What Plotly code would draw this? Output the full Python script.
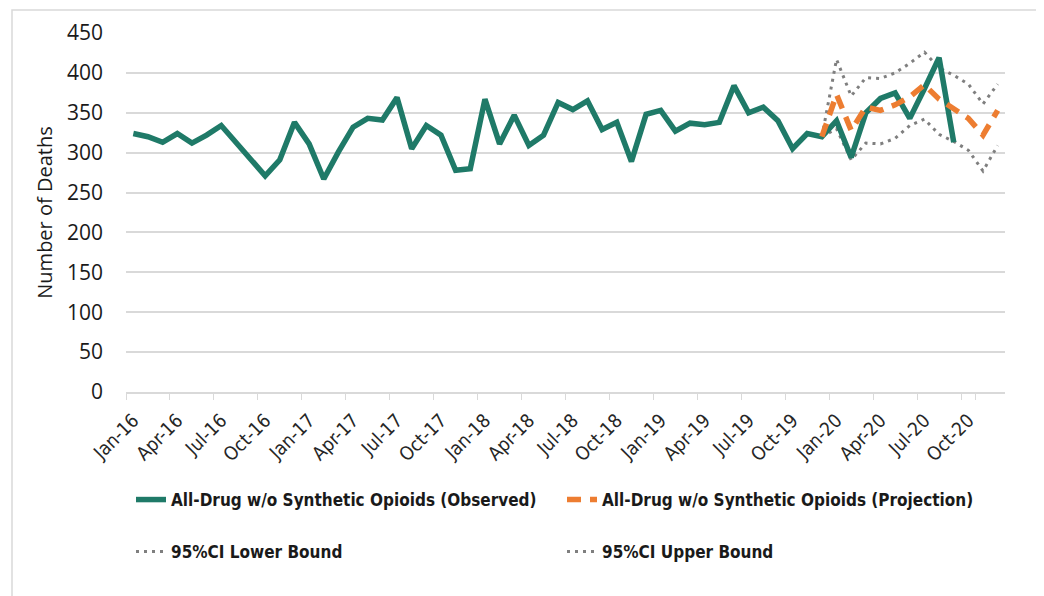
import plotly.graph_objects as go

months = [f"{m}-{y}" for y in ["16", "17", "18", "19", "20"]
          for m in ["Jan", "Feb", "Mar", "Apr", "May", "Jun",
                    "Jul", "Aug", "Sep", "Oct", "Nov", "Dec"]]

observed = [324, 320, 313, 324, 312, 322, 334, 313, 291, 271, 291, 338,
            311, 267, 301, 332, 343, 341, 369, 305, 334, 322, 278, 280,
            367, 311, 347, 309, 322, 363, 354, 365, 329, 338, 289, 348,
            353, 327, 337, 335, 338, 384, 350, 357, 340, 305, 324, 320,
            340, 294, 350, 368, 375, 343, 380, 419, 313]

proj_months = months[47:]
projection = [320, 373, 328, 357, 353, 360, 370, 385, 367, 355, 343, 322, 353]
ci_lower = [320, 330, 291, 312, 311, 318, 334, 342, 323, 314, 303, 277, 309]
ci_upper = [320, 417, 371, 394, 393, 400, 412, 426, 406, 397, 386, 361, 386]

tick_labels = months[::3]

GREEN = "#1F7A68"
ORANGE = "#ED7D31"
GRAY = "#7F7F7F"
LEG_FONT = "Liberation Sans Narrow, DejaVu Sans Condensed, Arial Narrow, sans-serif"
AX_FONT = "Open Sans, Noto Sans, sans-serif"

fig = go.Figure()
fig.add_trace(go.Scatter(x=proj_months, y=ci_lower, mode="lines",
                         name="95%CI Lower Bound", legend="legend2",
                         line=dict(color=GRAY, width=3, dash="3px,5px")))
fig.add_trace(go.Scatter(x=proj_months, y=ci_upper, mode="lines",
                         name="95%CI Upper Bound", legend="legend2",
                         line=dict(color=GRAY, width=3, dash="3px,5px")))
fig.add_trace(go.Scatter(x=months[:len(observed)], y=observed, mode="lines",
                         name="All-Drug w/o Synthetic Opioids (Observed)",
                         legend="legend", legendrank=1,
                         line=dict(color=GREEN, width=5.5)))
fig.add_trace(go.Scatter(x=proj_months, y=projection, mode="lines",
                         name="All-Drug w/o Synthetic Opioids (Projection)",
                         legend="legend", legendrank=2,
                         line=dict(color=ORANGE, width=5.5, dash="14px,9px")))

# page body adds an 8px offset; figure coordinates below are screen - 8
OFF = 8
W, H = 1044 - OFF, 596 - OFF
L, T = 126 - OFF, 33 - OFF
R = W - (1005 - OFF)
B = H - (392 - OFF)
pw, ph = W - L - R, H - T - B


def px_x(sx):
    return (sx - OFF - L) / pw


def px_y(sy):
    return (T + ph - (sy - OFF)) / ph


leg_common = dict(orientation="h", xanchor="left", yanchor="middle",
                  entrywidth=386, entrywidthmode="pixels",
                  font=dict(family=LEG_FONT, size=17, color="#1a1a1a", weight="bold"),
                  bgcolor="rgba(0,0,0,0)", traceorder="normal")

fig.update_layout(
    width=W, height=H,
    margin=dict(l=L, r=R, t=T, b=B, autoexpand=False),
    paper_bgcolor="white", plot_bgcolor="white",
    showlegend=True,
    legend=dict(x=px_x(131), y=px_y(500), **leg_common),
    legend2=dict(x=px_x(131), y=px_y(552), **leg_common),
    shapes=[dict(type="rect", xref="paper", yref="paper",
                 x0=px_x(12), x1=px_x(1040),
                 y0=px_y(640), y1=px_y(10),
                 line=dict(color="#D9D9D9", width=1.5), fillcolor="rgba(0,0,0,0)",
                 layer="below")],
)

fig.update_xaxes(
    type="category", categoryorder="array", categoryarray=months,
    range=[-0.5, len(months) - 0.5],
    tickmode="array", tickvals=tick_labels, ticktext=tick_labels,
    tickson="boundaries", ticks="outside", ticklen=6, tickcolor="#D9D9D9",
    tickangle=-45, showgrid=False, ticklabelstandoff=8,
    showline=True, linecolor="#D9D9D9", linewidth=1.5,
    tickfont=dict(family=LEG_FONT, size=19, color="#262626"),
    automargin=False,
)
fig.update_yaxes(
    range=[0, 450], dtick=50, tick0=0,
    showgrid=True, gridcolor="#D9D9D9", gridwidth=1.5,
    zeroline=False, showline=False, ticks="",
    ticklabelstandoff=22, automargin=False,
    tickfont=dict(family=AX_FONT, size=21, color="#1a1a1a"),
    title=dict(text="Number of Deaths", standoff=8,
               font=dict(family=AX_FONT, size=20, color="#1a1a1a")),
)

fig.write_html("out.html")
